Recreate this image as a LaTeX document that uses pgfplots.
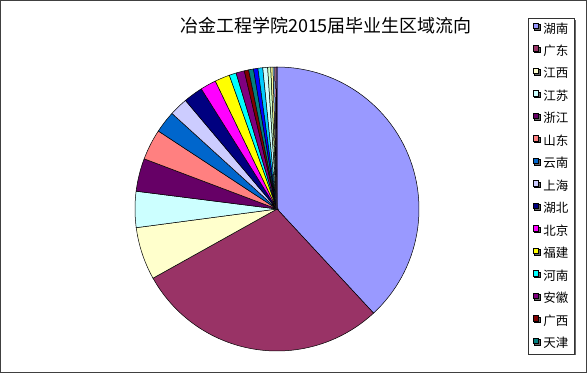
\documentclass[border=0pt]{standalone}
\usepackage{fontspec}
\setmainfont{Noto Sans CJK SC}
\usepackage{pgfplots}
\pgfplotsset{compat=1.18}
\usepackage{pgfplotstable}
\usetikzlibrary{shadows}

% slice palette
\definecolor{c0}{HTML}{9999FF}
\definecolor{c1}{HTML}{993366}
\definecolor{c2}{HTML}{FFFFCC}
\definecolor{c3}{HTML}{CCFFFF}
\definecolor{c4}{HTML}{660066}
\definecolor{c5}{HTML}{FF8080}
\definecolor{c6}{HTML}{0066CC}
\definecolor{c7}{HTML}{CCCCFF}
\definecolor{c8}{HTML}{000080}
\definecolor{c9}{HTML}{FF00FF}
\definecolor{c10}{HTML}{FFFF00}
\definecolor{c11}{HTML}{00FFFF}
\definecolor{c12}{HTML}{800080}
\definecolor{c13}{HTML}{800000}
\definecolor{c14}{HTML}{008080}
\definecolor{c15}{HTML}{0000FF}
\definecolor{c16}{HTML}{00CCFF}
\definecolor{c17}{HTML}{CCFFFF}
\definecolor{c18}{HTML}{CCFFCC}
\definecolor{c19}{HTML}{FFFF99}
\definecolor{c20}{HTML}{99CCFF}
\definecolor{c21}{HTML}{FF99CC}
\definecolor{c22}{HTML}{CC99FF}

% share of graduates per destination (percent)
\pgfplotstableread{
region share
湖南 38.1
广东 28.8
江西 6.0
江苏 4.1
浙江 3.75
山东 3.5
云南 2.5
上海 2.1
湖北 2.2
北京 1.8
福建 1.7
河南 0.8
安徽 0.95
广西 0.5
天津 0.55
r16 0.5
r17 0.55
r18 0.55
r19 0.35
r20 0.25
r21 0.2
r22 0.15
r23 0.1
}\regions

\begin{document}
\begin{tikzpicture}
\useasboundingbox (0,0) rectangle (587bp,373bp);
\draw[black!75, line width=0.75bp] (0.5bp,0.5bp) rectangle (586.5bp,372.5bp);
\node[font=\fontsize{18bp}{21bp}\selectfont, inner sep=0pt] at (326bp,347bp)
  {冶金工程学院2015届毕业生区域流向};
\begin{axis}[
  at={(277bp,164bp)}, anchor=center,
  scale only axis, width=284bp, height=284bp,
  xmin=-1, xmax=1, ymin=-1, ymax=1,
  hide axis, clip=false,
  legend entries={湖南,广东,江西,江苏,浙江,山东,云南,上海,湖北,北京,福建,河南,安徽,广西,天津},
  legend cell align=left,
  legend style={at={(1.384,1.1736)}, anchor=north west,
    draw=black!80, line width=0.75bp, fill=white,
    font=\fontsize{12.5bp}{14bp}\selectfont,
    inner xsep=4.5bp, inner ysep=4.5bp, row sep=10.5bp,
    nodes={inner ysep=0pt, inner xsep=1.5bp},
    drop shadow={shadow xshift=1.5bp, shadow yshift=-1.5bp, fill=black!60, opacity=1}},
  legend image code/.code={
    \draw[#1,/tikz/.cd,line width=0.5bp] (0bp,0bp) rectangle (5.5bp,5.5bp);
    \path (8.5bp,0bp);},
]
\pgfmathsetmacro\cum{0}
\pgfplotstablegetrowsof{\regions}
\pgfmathtruncatemacro\last{\pgfplotsretval-1}
\pgfplotsforeachungrouped \i in {0,...,\last}{
  \pgfplotstablegetelem{\i}{share}\of\regions
  \let\share\pgfplotsretval
  \pgfmathsetmacro\startang{90-3.6*(\cum+\share)}
  \pgfmathsetmacro\endang{90-3.6*\cum}
  \pgfmathsetmacro\cum{\cum+\share}
  \edef\slice{\noexpand\addplot[fill=c\i, draw=black, line width=0.5bp,
    domain=\startang:\endang, samples=60, variable=\noexpand\t]
    ({cos(\noexpand\t)}, {sin(\noexpand\t)}) -- (axis cs:0,0) -- cycle;}
  \slice
}
\end{axis}
\end{tikzpicture}
\end{document}
